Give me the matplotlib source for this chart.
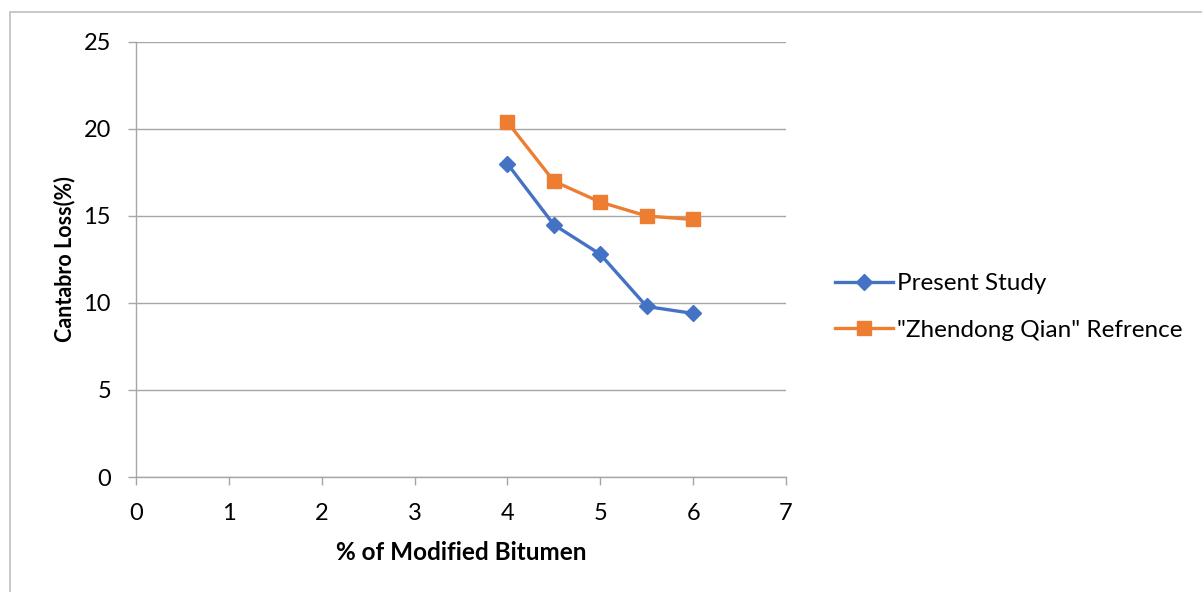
import matplotlib
matplotlib.use("Agg")
import matplotlib.pyplot as plt
from matplotlib.patches import Rectangle

plt.rcParams['font.family'] = ['Lato', 'DejaVu Sans']

# Data
bitumen_pct = [4, 4.5, 5, 5.5, 6]
present_study = [18.0, 14.5, 12.8, 9.8, 9.4]
qian_reference = [20.4, 17.0, 15.8, 15.0, 14.8]
series_labels = ["Present Study", '"Zhendong Qian" Refrence']
x_ticks = [0, 1, 2, 3, 4, 5, 6, 7]
y_ticks = [0, 5, 10, 15, 20, 25]

blue = "#4472C4"
orange = "#ED7D31"
grid_gray = "#A6A6A6"

fig = plt.figure(figsize=(12.02, 5.92), dpi=100)
ax = fig.add_axes([136 / 1202, 1 - 477 / 592, 650 / 1202, 435 / 592])

# Chart area border
fig.patches.append(Rectangle((10 / 1202, -0.05), 1.1, 1 - 12 / 592 + 0.05,
                             transform=fig.transFigure, fill=False,
                             edgecolor="#BFBFBF", linewidth=1.2))

ax.plot(bitumen_pct, present_study, color=blue, linewidth=2.4,
        marker="D", markersize=8, label=series_labels[0], zorder=3)
ax.plot(bitumen_pct, qian_reference, color=orange, linewidth=2.4,
        marker="s", markersize=10, label=series_labels[1], zorder=3)

ax.set_xlim(0, 7)
ax.set_ylim(0, 25)
ax.set_xticks(x_ticks)
ax.set_yticks(y_ticks)
ax.grid(axis="y", color=grid_gray, linewidth=1.0)
ax.set_axisbelow(True)

for side in ("top", "right"):
    ax.spines[side].set_visible(False)
for side in ("left", "bottom"):
    ax.spines[side].set_color(grid_gray)
    ax.spines[side].set_linewidth(1.0)

ax.tick_params(axis="both", colors=grid_gray, length=6, width=1.0,
               labelcolor="black", labelsize=17)
ax.tick_params(axis="y", pad=12)
ax.tick_params(axis="x", pad=13)

ax.set_xlabel("% of Modified Bitumen", fontsize=17.5, fontweight="bold", labelpad=12)
ax.set_ylabel("Cantabro Loss(%)", fontsize=15.5, fontweight="bold", labelpad=6)

ax.legend(loc="center left", bbox_to_anchor=(1.0415, 0.391), frameon=False,
          fontsize=17.5, handlelength=2.4, labelspacing=1.05, handletextpad=0.15)

fig.savefig("out.png", dpi=100, facecolor="white")
